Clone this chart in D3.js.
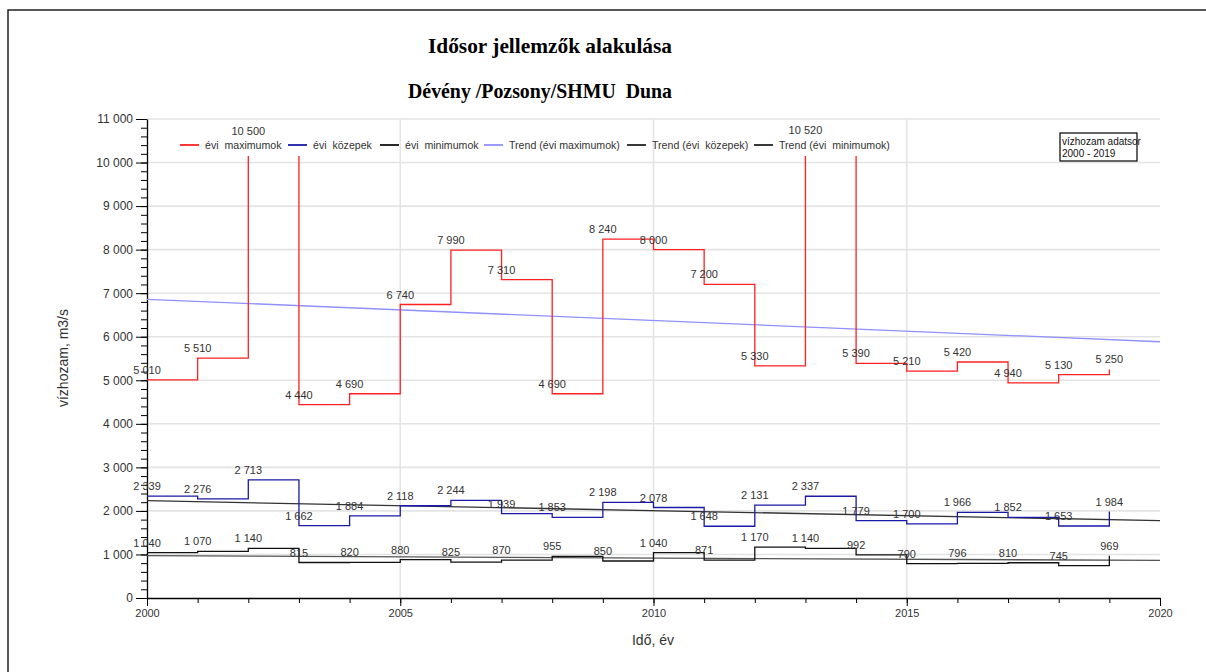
<!DOCTYPE html>
<html><head><meta charset="utf-8">
<script src="https://cdn.jsdelivr.net/npm/d3@7"></script>
<style>
body{margin:0;background:#fff}
svg{display:block}
text{font-family:"Liberation Sans",Arial,sans-serif}
</style>
</head><body><svg id="c" width="1206" height="672"></svg>
<script>
// ---- data ----
const years = [2000,2001,2002,2003,2004,2005,2006,2007,2008,2009,2010,2011,2012,2013,2014,2015,2016,2017,2018,2019];
const maxValues  = [5010,5510,10500,4440,4690,6740,7990,7310,4690,8240,8000,7200,5330,10520,5390,5210,5420,4940,5130,5250];
const meanValues = [2339,2276,2713,1662,1884,2118,2244,1939,1853,2198,2078,1648,2131,2337,1779,1700,1966,1852,1653,1984];
const minValues  = [1040,1070,1140,815,820,880,825,870,955,850,1040,871,1170,1140,992,790,796,810,745,969];
const trendYears = [2000,2020];
const trendMax  = [6860,5885];
const trendMean = [2235,1778];
const trendMin  = [975,862];
const yTickValues = [0,1000,2000,3000,4000,5000,6000,7000,8000,9000,10000,11000];
const xTickValues = [2000,2005,2010,2015,2020];
const legendNames = ["évi  maximumok","évi  közepek","évi  minimumok","Trend (évi maximumok)","Trend (évi  közepek)","Trend (évi  minimumok)"];
const titleText = "Idősor jellemzők alakulása";
const subtitleText = "Dévény /Pozsony/SHMU  Duna";
const yTitle = "vízhozam, m3/s";
const xTitle = "Idő, év";
const boxLines = ["vízhozam adatsor","2000 - 2019"];

// ---- layout ----
const svg = d3.select("#c");
const L = 147, R = 1160, T = 119, B = 598;
const x = d3.scaleLinear().domain([2000,2020]).range([L,R]);
const y = d3.scaleLinear().domain([0,11000]).range([B,T]);
const loc = d3.formatLocale({decimal:",",thousands:" ",grouping:[3],currency:["",""]});
const fmt = loc.format(",d");

// page frame
svg.append("path").attr("d","M8,672 V10 H1206").attr("fill","none").attr("stroke","#222").attr("stroke-width",1.5);

// titles
svg.append("text").attr("x",550).attr("y",53).attr("text-anchor","middle")
  .attr("textLength",244).attr("lengthAdjust","spacingAndGlyphs")
  .style("font-family","'Liberation Serif',serif").style("font-weight","bold").style("font-size","21px").text(titleText);
svg.append("text").attr("x",540).attr("y",98).attr("text-anchor","middle")
  .attr("textLength",264).attr("lengthAdjust","spacingAndGlyphs")
  .style("font-family","'Liberation Serif',serif").style("font-weight","bold").style("font-size","21px").style("white-space","pre").text(subtitleText);

// grid
const grid = svg.append("g").attr("stroke","#e4e4e4").attr("stroke-width",1.6);
grid.selectAll("line.h").data(yTickValues.filter(v=>v>0)).join("line")
  .attr("x1",L).attr("x2",R).attr("y1",d=>y(d)).attr("y2",d=>y(d));
grid.selectAll("line.v").data(xTickValues.filter(v=>v>2000 && v<2020)).join("line")
  .attr("y1",T).attr("y2",B).attr("x1",d=>x(d)).attr("x2",d=>x(d));

// axes
const yMinor = d3.range(0,11001,200);
svg.append("g").attr("transform",`translate(${L},0)`)
  .call(d3.axisLeft(y).tickValues(yMinor).tickSize(6).tickSizeOuter(0).tickFormat(""))
  .call(g=>g.select(".domain").remove());
const yAx = svg.append("g").attr("transform",`translate(${L},0)`)
  .call(d3.axisLeft(y).tickValues(yTickValues).tickSize(11).tickSizeOuter(0).tickPadding(3).tickFormat(fmt));
yAx.selectAll("text").style("font-size","12px").attr("fill","#333");
yAx.select(".domain").attr("stroke","#000").attr("stroke-width",1.3);

const xMinor = d3.range(2000,2021,1);
svg.append("g").attr("transform",`translate(0,${B})`)
  .call(d3.axisBottom(x).tickValues(xMinor).tickSize(5).tickSizeOuter(0).tickFormat(""))
  .call(g=>g.select(".domain").remove());
const xAx = svg.append("g").attr("transform",`translate(0,${B})`)
  .call(d3.axisBottom(x).tickValues(xTickValues).tickSize(8).tickSizeOuter(0).tickPadding(3).tickFormat(d3.format("d")));
xAx.selectAll("text").style("font-size","11px").attr("fill","#333");
xAx.select(".domain").attr("stroke","#000").attr("stroke-width",1.3);

// axis titles
svg.append("text").attr("transform","translate(68,358) rotate(-90)").attr("text-anchor","middle")
  .style("font-size","14px").attr("fill","#333").text(yTitle);
svg.append("text").attr("x",653).attr("y",645).attr("text-anchor","middle")
  .style("font-size","14px").attr("fill","#333").text(xTitle);

// clip (series hidden behind legend band)
svg.append("clipPath").attr("id","pc").append("rect").attr("x",L).attr("y",156).attr("width",R-L).attr("height",B-156+2);

const step = d3.line().x((d,i)=>x(years[i])).y(d=>y(d)).curve(d3.curveStepAfter);
const straight = d3.line().x((d,i)=>x(trendYears[i])).y(d=>y(d));

const plot = svg.append("g").attr("clip-path","url(#pc)");
plot.append("path").attr("d",straight(trendMin)).attr("fill","none").attr("stroke","#555").attr("stroke-width",1.3);
plot.append("path").attr("d",straight(trendMean)).attr("fill","none").attr("stroke","#333").attr("stroke-width",1.3);
plot.append("path").attr("d",straight(trendMax)).attr("fill","none").attr("stroke","#9090ff").attr("stroke-width",1.3);
plot.append("path").attr("d",step(minValues)).attr("fill","none").attr("stroke","#111").attr("stroke-width",1.3);
plot.append("path").attr("d",step(meanValues)).attr("fill","none").attr("stroke","#1a1aa8").attr("stroke-width",1.3);
plot.append("path").attr("d",step(maxValues)).attr("fill","none").attr("stroke","#ff2020").attr("stroke-width",1.3);

// data labels
function labels(vals){
  svg.append("g").selectAll("text").data(vals).join("text")
    .attr("x",(d,i)=>x(years[i])).attr("y",d=>y(d)-6).attr("text-anchor","middle")
    .style("font-size","11px").attr("fill","#333").text(d=>fmt(d));
}
labels(maxValues); labels(meanValues); labels(minValues);

// legend
const legColors = ["#ff2020","#1a1aa8","#111","#9090ff","#222","#222"];
const legTextX = [205,313,405,509,652,779];
const lg = svg.append("g");
legendNames.forEach((n,i)=>{
  lg.append("line").attr("x1",legTextX[i]-25).attr("x2",legTextX[i]-6).attr("y1",145).attr("y2",145)
    .attr("stroke",legColors[i]).attr("stroke-width",1.8);
  lg.append("text").attr("x",legTextX[i]).attr("y",149).style("font-size","10.6px").style("white-space","pre")
    .attr("fill","#333").text(n);
});

// info box
svg.append("rect").attr("x",1060).attr("y",133).attr("width",77).attr("height",28)
  .attr("fill","#fff").attr("stroke","#000").attr("stroke-width",1.2);
boxLines.forEach((t,i)=>svg.append("text").attr("x",1062).attr("y",145+i*12)
  .style("font-size","10px").attr("fill","#111").text(t));
</script></body></html>
